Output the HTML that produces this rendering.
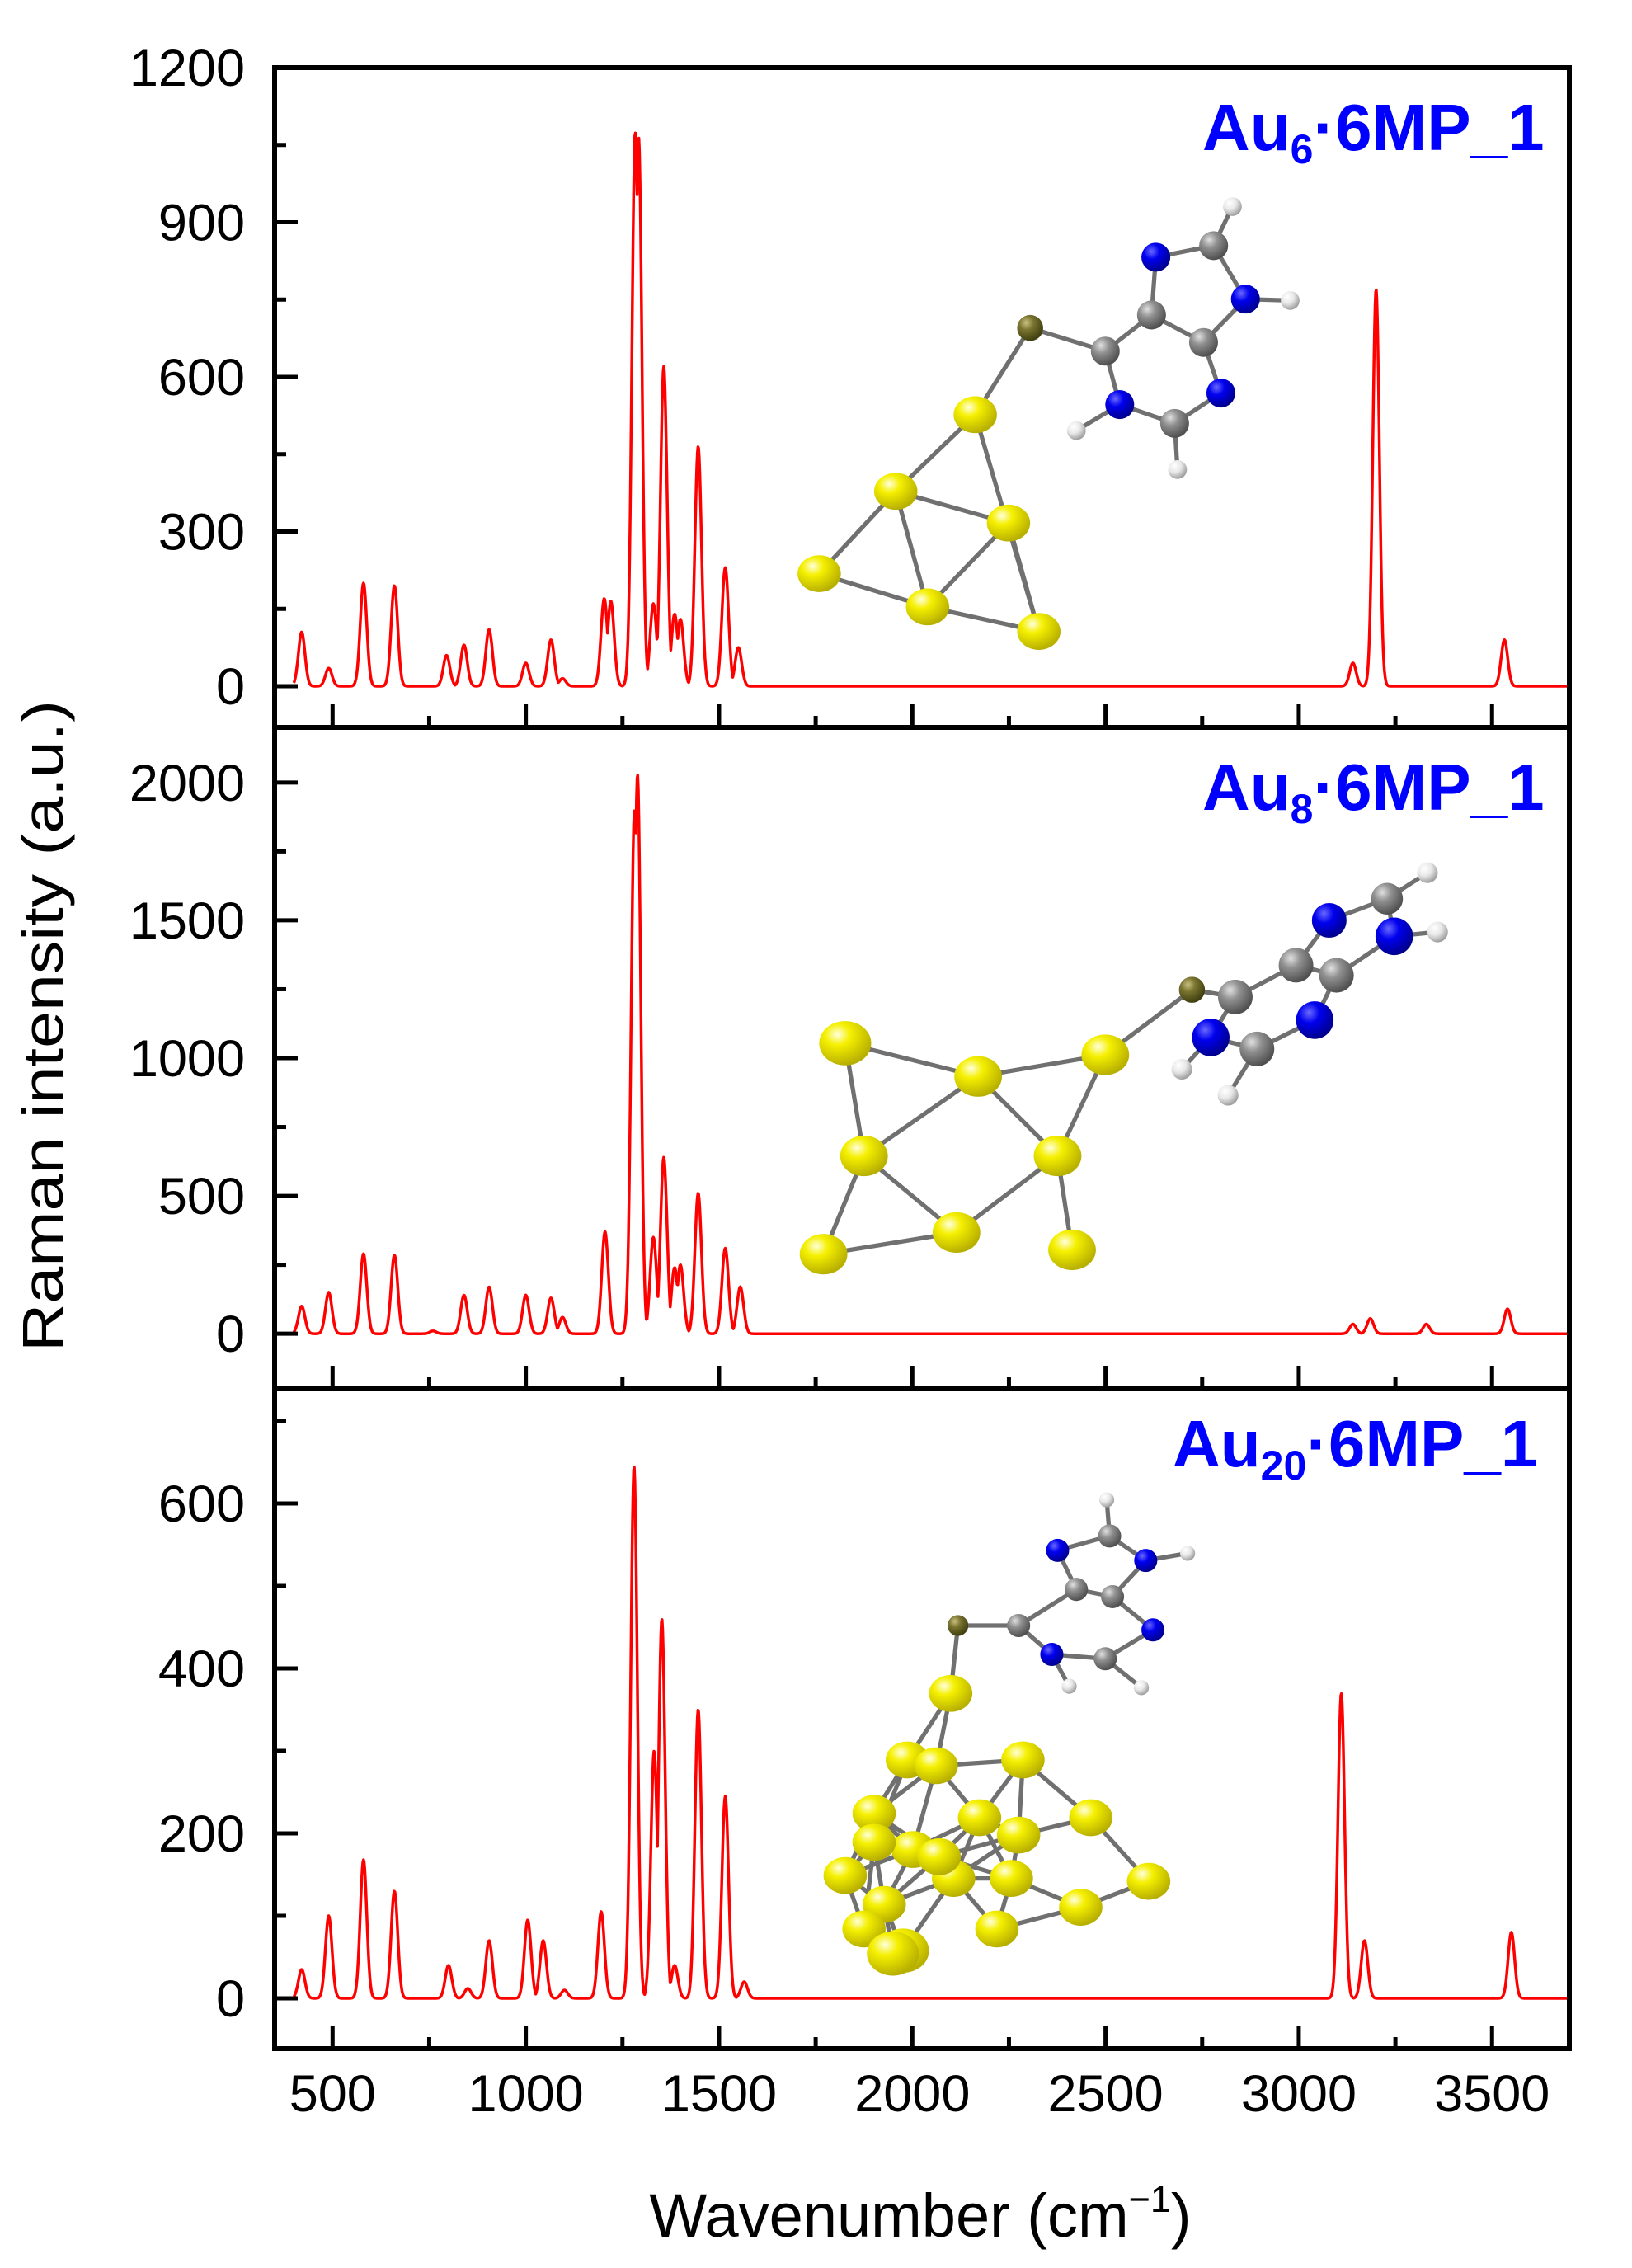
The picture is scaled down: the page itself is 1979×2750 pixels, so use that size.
<!DOCTYPE html>
<html><head><meta charset="utf-8"><style>
html,body{margin:0;padding:0;background:#fff}
svg{display:block}
text{font-family:"Liberation Sans",Arial,sans-serif}
</style></head><body>
<svg id="chart" width="1979" height="2750" viewBox="0 0 1979 2750" xmlns="http://www.w3.org/2000/svg">
<defs>
<radialGradient id="gAu" cx="35%" cy="30%" r="70%"><stop offset="0" stop-color="#ffffe0"/><stop offset="0.35" stop-color="#f5f000"/><stop offset="1" stop-color="#b8b000"/></radialGradient>
<radialGradient id="gN" cx="35%" cy="30%" r="70%"><stop offset="0" stop-color="#6a6aff"/><stop offset="0.4" stop-color="#0000ee"/><stop offset="1" stop-color="#000090"/></radialGradient>
<radialGradient id="gC" cx="35%" cy="30%" r="70%"><stop offset="0" stop-color="#e0e0e0"/><stop offset="0.4" stop-color="#909090"/><stop offset="1" stop-color="#505050"/></radialGradient>
<radialGradient id="gH" cx="35%" cy="30%" r="70%"><stop offset="0" stop-color="#ffffff"/><stop offset="0.5" stop-color="#e8e8e8"/><stop offset="1" stop-color="#a0a0a0"/></radialGradient>
<radialGradient id="gS" cx="35%" cy="30%" r="70%"><stop offset="0" stop-color="#c8c080"/><stop offset="0.4" stop-color="#7a7430"/><stop offset="1" stop-color="#404010"/></radialGradient>
</defs>
<g id="molecules"></g>
<g id="plots"></g>
<text x="0" y="0" transform="translate(76,1244) rotate(-90)" text-anchor="middle" font-size="70" textLength="790" lengthAdjust="spacingAndGlyphs">Raman intensity (a.u.)</text>
<text x="1116" y="2712" text-anchor="middle" font-size="74">Wavenumber (cm<tspan font-size="45" dy="-30">−1</tspan><tspan dy="30">)</tspan></text>
</svg>
<script>
// ---- data ----
const xTicks = [500, 1000, 1500, 2000, 2500, 3000, 3500];
const p1Pos = [420,490,580,660,795,840,905,1000,1065,1095,1203,1220,1283,1292,1330,1357,1385,1400,1446,1516,1550,3140,3200,3532];
const p1Int = [105,35,200,195,60,80,110,45,90,15,170,165,1075,1065,160,620,140,130,465,230,75,45,770,90];
const p2Pos = [420,490,580,660,760,840,905,1000,1065,1095,1205,1281,1289,1330,1357,1385,1400,1446,1516,1555,3140,3185,3330,3540];
const p2Int = [100,150,290,285,10,140,170,140,130,60,370,1900,2030,350,640,240,250,510,310,170,35,55,35,90];
const p3Pos = [420,490,580,660,800,850,905,1005,1045,1100,1195,1280,1332,1352,1385,1446,1516,1565,3110,3170,3550];
const p3Int = [35,100,168,130,40,12,70,95,70,10,105,645,300,460,40,350,245,20,370,70,80];
const p1Ticks = [0,300,600,900,1200];
const p2Ticks = [0,500,1000,1500,2000];
const p3Ticks = [0,200,400,600];

const X0=333, X1=1903, XMIN=350, XMAX=3700;
function xs(v){return X0+(v-XMIN)/(XMAX-XMIN)*(X1-X0);}
const NS="http://www.w3.org/2000/svg";
const plots=document.getElementById('plots');
function mk(tag,attrs,parent){const e=document.createElementNS(NS,tag);for(const k in attrs)e.setAttribute(k,attrs[k]);(parent||plots).appendChild(e);return e;}

const panels=[
 {name:'au6',top:82,bot:882,ymin:-80,ymax:1200,pos:p1Pos,ints:p1Int,ticks:p1Ticks,minor:150,label:'6',lx:1458,ly:182},
 {name:'au8',top:882,bot:1684,ymin:-200,ymax:2200,pos:p2Pos,ints:p2Int,ticks:p2Ticks,minor:250,label:'8',lx:1458,ly:982},
 {name:'au20',top:1684,bot:2484,ymin:-61,ymax:739,pos:p3Pos,ints:p3Int,ticks:p3Ticks,minor:100,label:'20',lx:1422,ly:1778}
];
panels.forEach((p,i)=>{
  const ys=v=>p.bot-(v-p.ymin)/(p.ymax-p.ymin)*(p.bot-p.top);
  const g=mk('g',{});
  
  
  let d='';
  const sg=8.5;
  for(let x=400;x<=XMAX;x+=1.5){
    let s=0;
    for(let k=0;k<p.pos.length;k++){const u=(x-p.pos[k])/sg;const v=p.ints[k]*Math.exp(-u*u/2);if(v>s)s=v;}
    d+=(d?'L':'M')+xs(x).toFixed(1)+' '+ys(s).toFixed(1);
  }
  const line=mk('path',{d:d,fill:'none',stroke:'#ff0000','stroke-width':3.5,'stroke-linejoin':'round'},g);
  
  
  for(let v=Math.ceil(p.ymin/p.minor)*p.minor; v<=p.ymax; v+=p.minor){
    const major=p.ticks.includes(v);
    const y=ys(v);
    if(Math.abs(y-p.top)<3) continue;
    mk('line',{x1:X0,x2:X0+(major?28:14),y1:y,y2:y,stroke:'#000','stroke-width':5},g);
  }
  p.ticks.forEach(v=>{
    const t=mk('text',{x:297,y:ys(v)+22,'text-anchor':'end','font-size':63},g);
    t.textContent=v;
    
    
  });
  for(let v=500; v<XMAX; v+=250){
    const major=xTicks.includes(v);
    mk('line',{x1:xs(v),x2:xs(v),y1:p.bot,y2:p.bot-(major?28:14),stroke:'#000','stroke-width':5},g);
  }
  const fr=mk('rect',{x:X0,y:p.top,width:X1-X0,height:p.bot-p.top,fill:'none',stroke:'#000','stroke-width':6},g);
  
  
  const lab=mk('text',{x:p.lx,y:p.ly,'font-size':80,'font-weight':'bold',fill:'#0000ff'},g);
  
  
  lab.innerHTML='Au<tspan font-size="50" dy="16">'+p.label+'</tspan><tspan dy="-16">·6MP_1</tspan>';
});
xTicks.forEach(v=>{
  const t=mk('text',{x:xs(v),y:2560,'text-anchor':'middle','font-size':63});
  t.textContent=v;
  
  
});

const mol=document.getElementById('molecules');
const S=1.752;
function drawMol(name,atoms,bonds){
  const g=document.createElementNS(NS,'g');
  
  
  g.setAttribute('transform','scale('+S+')');
  mol.appendChild(g);
  bonds.forEach(b=>{const a=atoms[b[0]],c=atoms[b[1]];
    const l=document.createElementNS(NS,'line');
    l.setAttribute('x1',a[0]);l.setAttribute('y1',a[1]);l.setAttribute('x2',c[0]);l.setAttribute('y2',c[1]);
    l.setAttribute('stroke','#707070');l.setAttribute('stroke-width','3');g.appendChild(l);});
  const R={Au:15,S:9,C:10,N:10,H:6.5};
  const F={Au:'url(#gAu)',S:'url(#gS)',C:'url(#gC)',N:'url(#gN)',H:'url(#gH)'};
  atoms.forEach(a=>{const c=document.createElementNS(NS,'ellipse');
    c.setAttribute('cx',a[0]);c.setAttribute('cy',a[1]);
    c.setAttribute('rx',R[a[2]]*(a[3]||1));c.setAttribute('ry',R[a[2]]*(a[3]||1)*(a[2]==='Au'?0.85:1));
    c.setAttribute('fill',F[a[2]]);g.appendChild(c);});
}
drawMol('au6-structure',[
 [675,287,'Au'],[620,340,'Au'],[698,362,'Au'],[567,397,'Au'],[642,420,'Au'],[719,437,'Au'],
 [713,227,'S'],[765,243,'C'],[797,218,'C'],[800,178,'N'],[840,170,'C'],[862,207,'N'],[833,237,'C'],
 [775,280,'N'],[813,293,'C'],[845,272,'N'],[853,143,'H'],[893,208,'H'],[745,298,'H'],[815,325,'H']],
 [[0,1],[0,5],[1,2],[1,3],[1,4],[2,4],[2,5],[3,4],[4,5],[0,6],[6,7],[7,8],[8,9],[9,10],[10,11],[11,12],[12,8],[7,13],[13,14],[14,15],[15,12],[10,16],[11,17],[13,18],[14,19]]);
drawMol('au8-structure',[
 [585,722,'Au',1.2],[677,745,'Au',1.1],[765,730,'Au',1.1],[598,800,'Au',1.1],[732,800,'Au',1.1],[570,868,'Au',1.1],[662,853,'Au',1.1],[742,865,'Au',1.1],
 [825,685,'S'],[855,690,'C',1.2],[897,668,'C',1.2],[925,675,'C',1.2],[920,637,'N',1.2],[960,622,'C',1.1],[965,648,'N',1.3],
 [910,706,'N',1.3],[870,726,'C',1.2],[838,718,'N',1.3],[988,604,'H',1.1],[995,645,'H',1.1],[818,740,'H',1.1],[850,758,'H',1.1]],
 [[0,1],[0,3],[1,2],[1,3],[1,4],[2,4],[3,5],[3,6],[4,6],[4,7],[5,6],[2,8],[8,9],[9,10],[10,11],[10,12],[12,13],[13,14],[14,11],[11,15],[15,16],[16,17],[17,9],[13,18],[14,19],[17,20],[16,21]]);
const au20=[[658,1172],[628,1218],[648,1222],[708,1218],[605,1255],[632,1280],[678,1258],[705,1270],[755,1258],[585,1298],[612,1318],[660,1300],[700,1300],[748,1320],[795,1302],[598,1335],[625,1350],[690,1335],[618,1352],[605,1275],[650,1285]];
const atoms3=au20.map(a=>[a[0],a[1],'Au',a[1]>1340?1.2:1]);
const b3=[];
for(let i=0;i<au20.length;i++)for(let j=i+1;j<au20.length;j++){const dx=au20[i][0]-au20[j][0],dy=au20[i][1]-au20[j][1];if(dx*dx+dy*dy<62*62)b3.push([i,j]);}
const base=atoms3.length;
[[663,1125,'S'],[705,1125,'C'],[745,1100,'C'],[732,1073,'N'],[768,1063,'C'],[793,1080,'N'],[770,1105,'C'],[728,1145,'N'],[765,1148,'C'],[798,1128,'N'],[766,1038,'H'],[822,1075,'H'],[740,1167,'H'],[790,1168,'H']].forEach(a=>atoms3.push([a[0],a[1],a[2],0.8]));
[[0,0],[0,1],[1,2],[2,3],[3,4],[4,5],[5,6],[6,2],[1,7],[7,8],[8,9],[9,6],[4,10],[5,11],[7,12],[8,13]].forEach((b,k)=>{
  if(k===0)b3.push([0,base]);else b3.push([base+b[0],base+b[1]]);});
drawMol('au20-structure',atoms3,b3);
</script>
</body></html>
